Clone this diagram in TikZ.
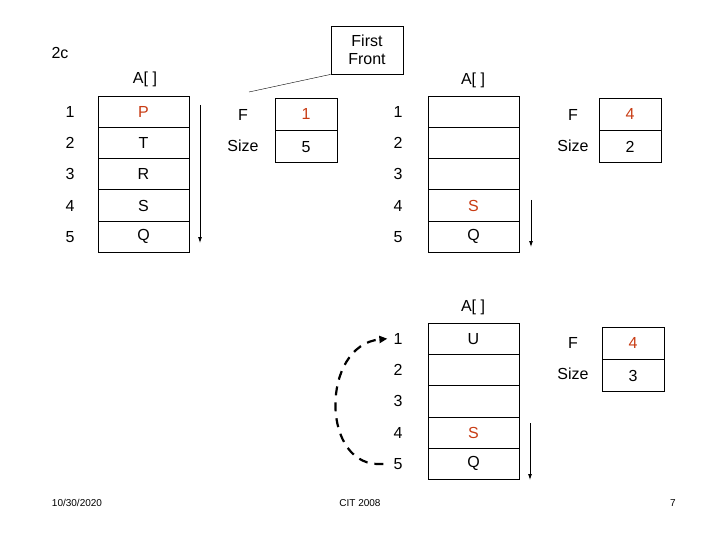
\documentclass[tikz,border=0pt]{standalone}
\usepackage{fontspec}
\setmainfont{Liberation Sans}
\usetikzlibrary{arrows.meta}
\definecolor{hot}{RGB}{200,60,20}

\tikzset{
  cell/.style={draw, line width=0.8pt, minimum width=91pt, minimum height=31.3pt, inner sep=0pt},
  fcell/.style={draw, line width=0.8pt, minimum width=62pt, minimum height=32pt, inner sep=0pt},
  lbl/.style={inner sep=0pt},
  scan/.style={-{Latex[length=6pt,width=4pt]}, line width=0.8pt}
}

\begin{document}
\begin{tikzpicture}[x=1pt, y=-1pt, font=\fontsize{16}{18}\selectfont]
\useasboundingbox (0,0) rectangle (720,540);

\node[lbl] (tag) at (60,53) {2c};

% first array
\node[lbl] (ha) at (145,79) {A[ ]};
\foreach \v [count=\i] in {{\textcolor{hot}{P}},T,R,S,Q}{
  \node[cell] (a-\i) at (143.5,{111.6+31.3*(\i-1)}) {\v};
  \node[lbl] (ia-\i) at (70,{111.6+31.3*(\i-1)}) {\i};
}
\coordinate (sa) at (200,105);
\coordinate (ea) at (200,243);
\draw[scan] (sa) -- (ea);

\node[fcell] (fa) at (306,114) {\textcolor{hot}{1}};
\node[fcell, anchor=north] (za) at (fa.south) {5};
\node[lbl] (lfa) at (243,115) {F};
\node[lbl] (lza) at (243,146) {Size};

\node[draw, line width=0.8pt, minimum width=72pt, minimum height=48pt, align=center, inner sep=0pt] (ff) at (367,50) {First\\Front};
\coordinate (ffp) at (249,92);
\draw (ffp) -- (ff.south west);

% second array
\node[lbl] (hb) at (473,80) {A[ ]};
\foreach \v [count=\i] in {{},{},{},{\textcolor{hot}{S}},Q}{
  \node[cell] (b-\i) at (473.5,{111.6+31.3*(\i-1)}) {\v};
  \node[lbl] (ib-\i) at (398,{111.6+31.3*(\i-1)}) {\i};
}
\coordinate (sb) at (531,200);
\coordinate (eb) at (531,247);
\draw[scan] (sb) -- (eb);

\node[fcell] (fb) at (630,114) {\textcolor{hot}{4}};
\node[fcell, anchor=north] (zb) at (fb.south) {2};
\node[lbl] (lfb) at (573,115) {F};
\node[lbl] (lzb) at (573,146) {Size};

% third array
\node[lbl] (hc) at (473,307) {A[ ]};
\foreach \v [count=\i] in {U,{},{},{\textcolor{hot}{S}},Q}{
  \node[cell] (c-\i) at (473.5,{338.7+31.3*(\i-1)}) {\v};
  \node[lbl] (ic-\i) at (398,{338.7+31.3*(\i-1)}) {\i};
}
\coordinate (sc) at (530,423);
\coordinate (ec) at (530,480);
\draw[scan] (sc) -- (ec);

\node[fcell] (fc) at (633,343) {\textcolor{hot}{4}};
\node[fcell, anchor=north] (zc) at (fc.south) {3};
\node[lbl] (lfc) at (573,343) {F};
\node[lbl] (lzc) at (573,374) {Size};

% wrap around
\draw[line width=2.2pt, dash pattern=on 9pt off 7pt, -{Triangle[length=8pt,width=7pt]}]
  ([xshift=-10pt]ic-5.west) .. controls (320,470) and (320,345) .. ([xshift=-6pt]ic-1.west);

% footer
\node[lbl, font=\fontsize{10}{12}\selectfont] (d) at (77,503) {10/30/2020};
\node[lbl, font=\fontsize{10}{12}\selectfont] (c) at (360,503) {CIT 2008};
\node[lbl, font=\fontsize{10}{12}\selectfont] (p) at (673,503) {7};
\end{tikzpicture}
\end{document}
